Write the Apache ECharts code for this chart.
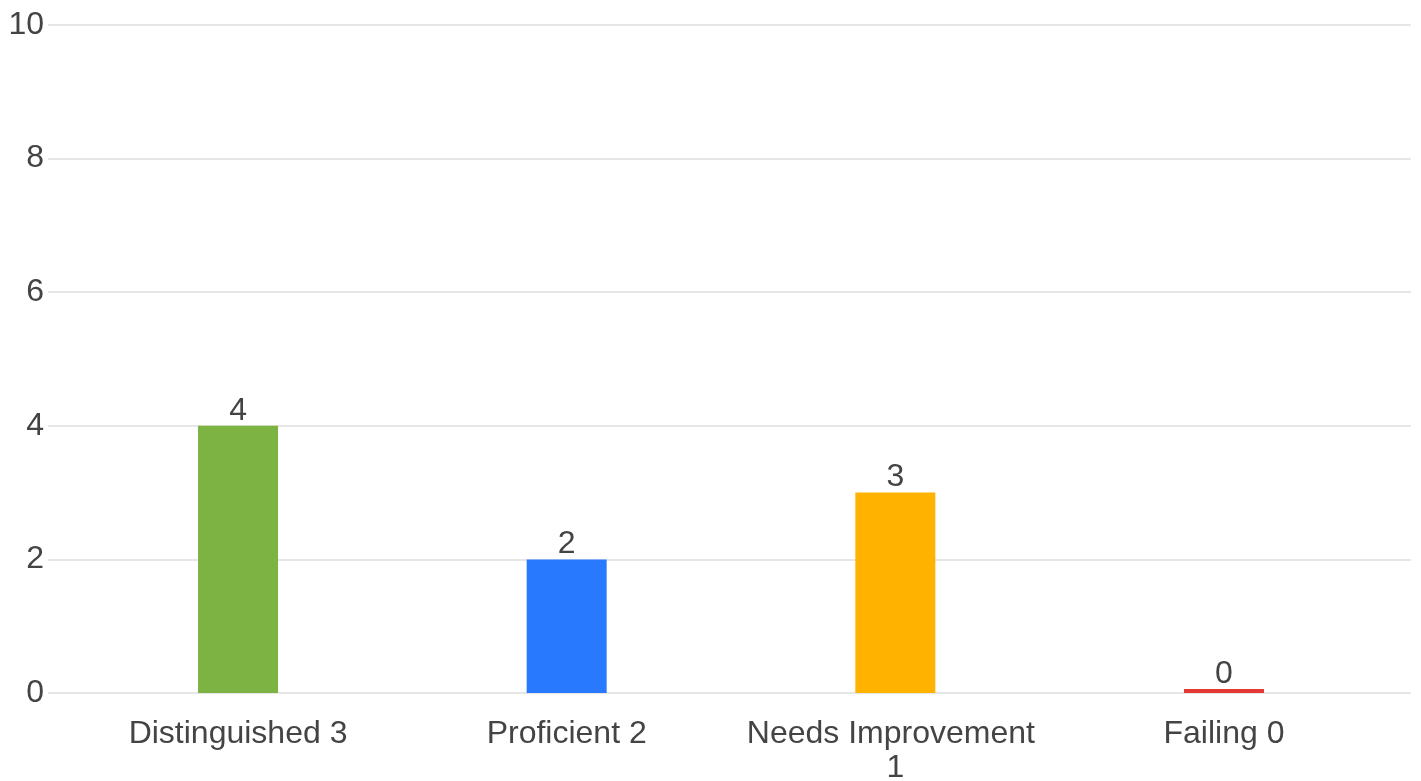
<!DOCTYPE html>
<html>
<head>
<meta charset="utf-8">
<script src="https://cdn.jsdelivr.net/npm/echarts@6/dist/echarts.min.js"></script>
<style>
html,body{margin:0;padding:0;background:#fff;}
#chart{width:1421px;height:781px;}
</style>
</head>
<body>
<div id="chart"></div>
<script>
const categories = ["Distinguished 3", "Proficient 2", "Needs Improvement 1", "Failing 0"];
const values = [4, 2, 3, 0];
const barColors = ["#7CB342", "#2979FF", "#FFB300", "#E53935"];
const yTicks = [0, 2, 4, 6, 8, 10];

const FONT = "'Liberation Sans', Arial, sans-serif";
const TEXT = "#444444";
const FS = 32;

const chart = echarts.init(document.getElementById('chart'), null, {renderer: 'canvas'});
chart.setOption({
  animation: false,
  backgroundColor: '#ffffff',
  grid: [
    {left: 48, right: 10, top: 25, bottom: 88, containLabel: false, outerBoundsMode: 'none'},
    {left: 73.7, right: 32.7, top: 25, bottom: 88, containLabel: false, outerBoundsMode: 'none'}
  ],
  xAxis: [
    {gridIndex: 0, type: 'value', show: false, min: 0, max: 1},
    {gridIndex: 1, type: 'category', data: categories,
      axisLine: {show: false}, axisTick: {show: false},
      axisLabel: {color: TEXT, fontSize: FS, fontFamily: FONT, margin: 24, lineHeight: 34,
        width: 300, overflow: 'break', interval: 0}
    }
  ],
  yAxis: [
    {gridIndex: 0, type: 'value', min: yTicks[0], max: yTicks[yTicks.length-1], interval: 2,
      axisLine: {show: false}, axisTick: {show: false},
      axisLabel: {color: TEXT, fontSize: FS, fontFamily: FONT, margin: 4, padding: [8, 0, 0, 0]},
      splitLine: {lineStyle: {color: '#e6e6e6', width: 2}}
    },
    {gridIndex: 1, type: 'value', min: yTicks[0], max: yTicks[yTicks.length-1], interval: 2,
      show: false, splitLine: {show: false}}
  ],
  series: [{
    type: 'bar',
    xAxisIndex: 1, yAxisIndex: 1,
    barWidth: 80,
    barMinHeight: 4,
    data: values.map((v, i) => ({value: v, itemStyle: {color: barColors[i]}})),
    label: {show: true, position: 'top', distance: -1, color: TEXT, fontSize: FS, fontFamily: FONT}
  }]
});
</script>
</body>
</html>
